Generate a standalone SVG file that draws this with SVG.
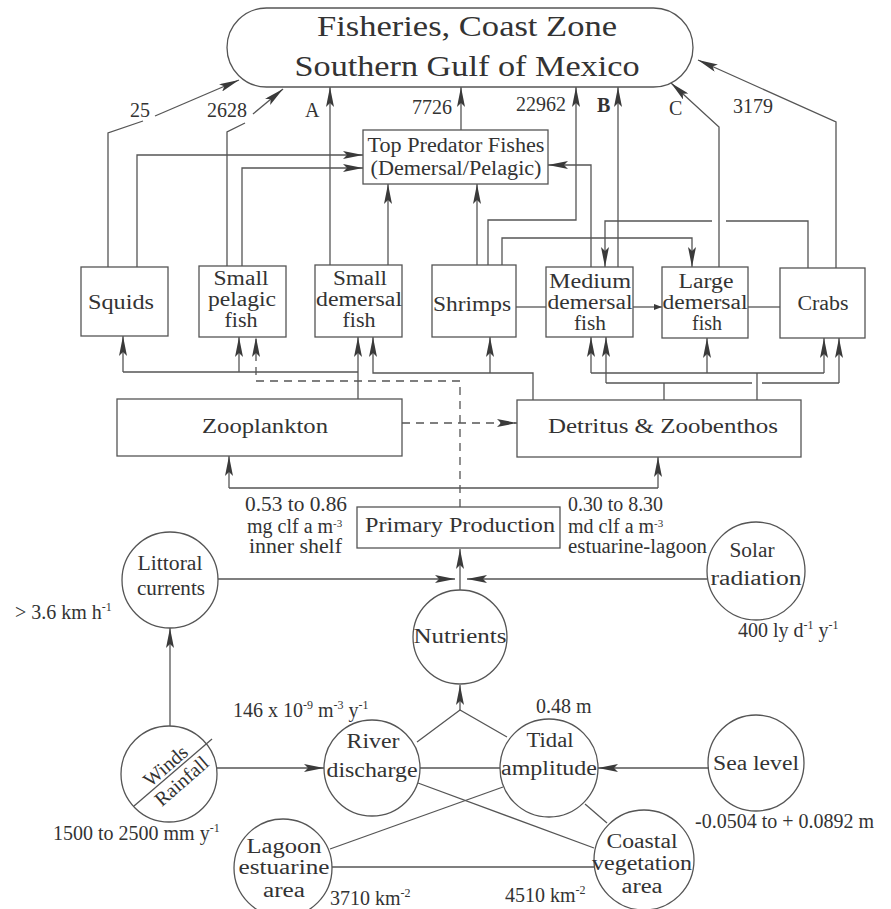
<svg xmlns="http://www.w3.org/2000/svg" width="891" height="909" viewBox="0 0 891 909">
<defs>
<style>
text{font-family:"Liberation Serif","Times New Roman",serif;fill:#333;font-size:20px}
.m{text-anchor:middle}
.t{font-size:30px}
.sup{font-size:12px}
.box{fill:none;stroke:#555;stroke-width:1.3}
.ln{fill:none;stroke:#555;stroke-width:1.3}
.a{marker-end:url(#ah)}
.d{stroke-dasharray:8 6}
</style>
<marker id="ah" viewBox="0 0 20 8" refX="20" refY="4" markerWidth="20" markerHeight="8" markerUnits="userSpaceOnUse" orient="auto"><path d="M0,0 L20,4 L0,8 L4,4 z" fill="#3a3a3a"/></marker>
<marker id="as" viewBox="0 0 8 6" refX="8" refY="3" markerWidth="8" markerHeight="6" markerUnits="userSpaceOnUse" orient="auto"><path d="M0,0 L8,3 L0,6 z" fill="#3a3a3a"/></marker>
</defs>
<rect width="891" height="909" fill="#fff"/>

<g id="connectors">
<polyline class="ln" points="108,267 108,133 143,121"/>
<line class="ln a" x1="155" y1="116" x2="239" y2="80"/>
<polyline class="ln" points="227,266 227,132 245,123"/>
<line class="ln a" x1="253" y1="114" x2="283" y2="89"/>
<line class="ln a" x1="330" y1="265" x2="330" y2="87"/>
<line class="ln a" x1="461" y1="130" x2="461" y2="87"/>
<polyline class="ln a" points="488,265 488,220 576,220 576,87"/>
<line class="ln a" x1="618" y1="267" x2="618" y2="87"/>
<polyline class="ln a" points="719,267 719,127 671,83"/>
<polyline class="ln a" points="836,268 836,122 698,60"/>
<polyline class="ln a" points="137,267 137,155 363,155"/>
<polyline class="ln a" points="242,266 242,168 363,168"/>
<line class="ln a" x1="388" y1="265" x2="388" y2="184"/>
<line class="ln a" x1="477" y1="265" x2="477" y2="184"/>
<polyline class="ln a" points="591,267 591,165 548,165"/>
<polyline class="ln a" points="502,265 502,238 692,238 692,267"/>
<path class="ln a" d="M808,268 V221 H726 M712,221 H605 V267"/>
<line class="ln" x1="516" y1="307" x2="546" y2="307"/>
<line class="ln" x1="633" y1="307" x2="662" y2="307" marker-end="url(#as)"/>
<line class="ln" x1="748" y1="307" x2="780" y2="307"/>
<path class="ln" d="M123,372 H358"/>
<line class="ln a" x1="358" y1="399" x2="358" y2="337"/>
<line class="ln a" x1="123" y1="372" x2="123" y2="336"/>
<line class="ln a" x1="239" y1="372" x2="239" y2="337"/>
<polyline class="ln d a" points="460,507 460,381 256,381 256,337"/>
<line class="ln d a" x1="402" y1="423" x2="517" y2="423"/>
<polyline class="ln a" points="533,400 533,373 373,373 373,337"/>
<line class="ln a" x1="490" y1="373" x2="490" y2="337"/>
<path class="ln" d="M757,400 V373 M591,373 H824"/>
<line class="ln a" x1="591" y1="373" x2="591" y2="337"/>
<line class="ln a" x1="707" y1="373" x2="707" y2="338"/>
<line class="ln a" x1="824" y1="373" x2="824" y2="338"/>
<path class="ln" d="M664,400 V383 M606,383 H752 M762,383 H839"/>
<line class="ln a" x1="606" y1="383" x2="606" y2="337"/>
<line class="ln a" x1="839" y1="383" x2="839" y2="338"/>
<path class="ln" d="M229,488 H658"/>
<line class="ln a" x1="229" y1="488" x2="229" y2="456"/>
<line class="ln a" x1="658" y1="488" x2="658" y2="457"/>
<line class="ln a" x1="460" y1="590" x2="460" y2="549"/>
<line class="ln a" x1="218" y1="579" x2="455" y2="579"/>
<line class="ln a" x1="707" y1="579" x2="467" y2="579"/>
<line class="ln a" x1="170" y1="726" x2="170" y2="628"/>
<line class="ln a" x1="217" y1="768" x2="324" y2="768"/>
<polyline class="ln" points="417,742 460,710 507,737"/>
<line class="ln a" x1="460" y1="711" x2="460" y2="685"/>
<line class="ln" x1="420" y1="768" x2="500" y2="768"/>
<line class="ln" x1="418" y1="783" x2="594" y2="848"/>
<line class="ln" x1="330" y1="849" x2="503" y2="787"/>
<line class="ln" x1="332" y1="867" x2="594" y2="867"/>
<line class="ln" x1="585" y1="804" x2="607" y2="823"/>
<line class="ln a" x1="709" y1="768" x2="598" y2="768"/>
</g>

<g id="fisheries">
<rect class="box" x="227" y="8" width="466" height="79" rx="39.5"/>
<text class="t m" x="467" y="36" textLength="300" lengthAdjust="spacingAndGlyphs">Fisheries, Coast Zone</text>
<text class="t m" x="467" y="76" textLength="345" lengthAdjust="spacingAndGlyphs">Southern Gulf of Mexico</text>
</g>
<g id="top-predator">
<rect class="box" x="363" y="130" width="185" height="54"/>
<text class="m" x="456" y="152" font-size="19" textLength="177" lengthAdjust="spacingAndGlyphs">Top Predator Fishes</text>
<text class="m" x="456" y="175" font-size="19" textLength="171" lengthAdjust="spacingAndGlyphs">(Demersal/Pelagic)</text>
</g>
<g id="squids">
<rect class="box" x="81" y="267" width="87" height="69"/>
<text class="m" x="121" y="309" textLength="66" lengthAdjust="spacingAndGlyphs">Squids</text>
</g>
<g id="small-pelagic">
<rect class="box" x="199" y="266" width="87" height="71"/>
<text class="m" x="241" y="285" textLength="55" lengthAdjust="spacingAndGlyphs">Small</text>
<text class="m" x="242" y="306" textLength="68" lengthAdjust="spacingAndGlyphs">pelagic</text>
<text class="m" x="241" y="327" textLength="33" lengthAdjust="spacingAndGlyphs">fish</text>
</g>
<g id="small-demersal">
<rect class="box" x="315" y="265" width="87" height="72"/>
<text class="m" x="360" y="285" textLength="54" lengthAdjust="spacingAndGlyphs">Small</text>
<text class="m" x="359" y="306" textLength="86" lengthAdjust="spacingAndGlyphs">demersal</text>
<text class="m" x="359" y="327" textLength="33" lengthAdjust="spacingAndGlyphs">fish</text>
</g>
<g id="shrimps">
<rect class="box" x="432" y="265" width="84" height="72"/>
<text class="m" x="472" y="311" textLength="78" lengthAdjust="spacingAndGlyphs">Shrimps</text>
</g>
<g id="medium-demersal">
<rect class="box" x="546" y="267" width="87" height="70"/>
<text class="m" x="590" y="288" textLength="82" lengthAdjust="spacingAndGlyphs">Medium</text>
<text class="m" x="590" y="309" textLength="85" lengthAdjust="spacingAndGlyphs">demersal</text>
<text class="m" x="590" y="330" textLength="32" lengthAdjust="spacingAndGlyphs">fish</text>
</g>
<g id="large-demersal">
<rect class="box" x="662" y="267" width="86" height="71"/>
<text class="m" x="706" y="288" textLength="55" lengthAdjust="spacingAndGlyphs">Large</text>
<text class="m" x="705" y="309" textLength="85" lengthAdjust="spacingAndGlyphs">demersal</text>
<text class="m" x="707" y="330" textLength="30" lengthAdjust="spacingAndGlyphs">fish</text>
</g>
<g id="crabs">
<rect class="box" x="780" y="268" width="85" height="70"/>
<text class="m" x="823" y="310" textLength="51" lengthAdjust="spacingAndGlyphs">Crabs</text>
</g>
<g id="zooplankton">
<rect class="box" x="117" y="399" width="285" height="57"/>
<text class="m" x="265" y="433" textLength="126" lengthAdjust="spacingAndGlyphs">Zooplankton</text>
</g>
<g id="detritus">
<rect class="box" x="517" y="400" width="284" height="57"/>
<text class="m" x="663" y="433" textLength="230" lengthAdjust="spacingAndGlyphs">Detritus &amp; Zoobenthos</text>
</g>
<g id="primary-production">
<rect class="box" x="357" y="507" width="203" height="41"/>
<text class="m" x="460" y="532" font-size="22" textLength="190" lengthAdjust="spacingAndGlyphs">Primary Production</text>
</g>
<g id="littoral">
<circle class="box" cx="170" cy="580" r="48"/>
<text class="m" x="170" y="570" textLength="65" lengthAdjust="spacingAndGlyphs">Littoral</text>
<text class="m" x="171" y="595" textLength="68" lengthAdjust="spacingAndGlyphs">currents</text>
</g>
<g id="solar">
<circle class="box" cx="756" cy="571" r="49"/>
<text class="m" x="752" y="557" textLength="45" lengthAdjust="spacingAndGlyphs">Solar</text>
<text class="m" x="756" y="585" textLength="91" lengthAdjust="spacingAndGlyphs">radiation</text>
</g>
<g id="nutrients">
<circle class="box" cx="460" cy="637" r="47"/>
<text class="m" x="460" y="643" textLength="93" lengthAdjust="spacingAndGlyphs">Nutrients</text>
</g>
<g id="winds-rainfall">
<circle class="box" cx="169" cy="774" r="48"/>
<line class="ln" x1="134" y1="806" x2="212" y2="739"/>
<text class="m" transform="translate(170,771) rotate(-41)">Winds</text>
<text class="m" transform="translate(186,786) rotate(-41)">Rainfall</text>
</g>
<g id="river">
<circle class="box" cx="372" cy="768" r="48"/>
<text class="m" x="373" y="748" textLength="53" lengthAdjust="spacingAndGlyphs">River</text>
<text class="m" x="372" y="777" textLength="91" lengthAdjust="spacingAndGlyphs">discharge</text>
</g>
<g id="tidal">
<circle class="box" cx="549" cy="768" r="49"/>
<text class="m" x="550" y="747" textLength="47" lengthAdjust="spacingAndGlyphs">Tidal</text>
<text class="m" x="549" y="775" textLength="96" lengthAdjust="spacingAndGlyphs">amplitude</text>
</g>
<g id="sea-level">
<circle class="box" cx="756" cy="763" r="48"/>
<text class="m" x="756" y="770" textLength="86" lengthAdjust="spacingAndGlyphs">Sea level</text>
</g>
<g id="lagoon">
<circle class="box" cx="283" cy="868" r="49"/>
<text class="m" x="284" y="853" textLength="75" lengthAdjust="spacingAndGlyphs">Lagoon</text>
<text class="m" x="284" y="874" textLength="91" lengthAdjust="spacingAndGlyphs">estuarine</text>
<text class="m" x="284" y="897" textLength="42" lengthAdjust="spacingAndGlyphs">area</text>
</g>
<g id="coastal">
<circle class="box" cx="644" cy="860" r="50"/>
<text class="m" x="642" y="848" textLength="71" lengthAdjust="spacingAndGlyphs">Coastal</text>
<text class="m" x="642" y="870" textLength="100" lengthAdjust="spacingAndGlyphs">vegetation</text>
<text class="m" x="642" y="893" textLength="41" lengthAdjust="spacingAndGlyphs">area</text>
</g>

<g id="labels">
<text x="130" y="117">25</text>
<text x="207" y="117">2628</text>
<text x="305" y="117">A</text>
<text x="412" y="114">7726</text>
<text x="516" y="111">22962</text>
<text x="597" y="112" font-weight="bold">B</text>
<text x="669" y="115">C</text>
<text x="733" y="113">3179</text>
<text x="245" y="511" textLength="102" lengthAdjust="spacingAndGlyphs">0.53 to 0.86</text>
<text x="247" y="533">mg clf a m<tspan font-size="11" dy="-6">-3</tspan></text>
<text x="249" y="553" textLength="93" lengthAdjust="spacingAndGlyphs">inner shelf</text>
<text x="568" y="511" textLength="95" lengthAdjust="spacingAndGlyphs">0.30 to 8.30</text>
<text x="568" y="533">md clf a m<tspan font-size="11" dy="-6">-3</tspan></text>
<text x="568" y="553" textLength="139" lengthAdjust="spacingAndGlyphs">estuarine-lagoon</text>
<text x="15" y="619">&gt; 3.6 km h<tspan class="sup" dy="-8">-1</tspan></text>
<text x="738" y="637">400 ly d<tspan class="sup" dy="-8">-1</tspan><tspan dy="8"> y</tspan><tspan class="sup" dy="-8">-1</tspan></text>
<text x="233" y="717">146 x 10<tspan class="sup" dy="-8">-9</tspan><tspan dy="8"> m</tspan><tspan class="sup" dy="-8">-3</tspan><tspan dy="8"> y</tspan><tspan class="sup" dy="-8">-1</tspan></text>
<text x="536" y="713">0.48 m</text>
<text x="53" y="840">1500 to 2500 mm y<tspan class="sup" dy="-8">-1</tspan></text>
<text x="695" y="828">-0.0504 to + 0.0892 m</text>
<text x="330" y="905">3710 km<tspan class="sup" dy="-8">-2</tspan></text>
<text x="505" y="902">4510 km<tspan class="sup" dy="-8">-2</tspan></text>
</g>
</svg>
